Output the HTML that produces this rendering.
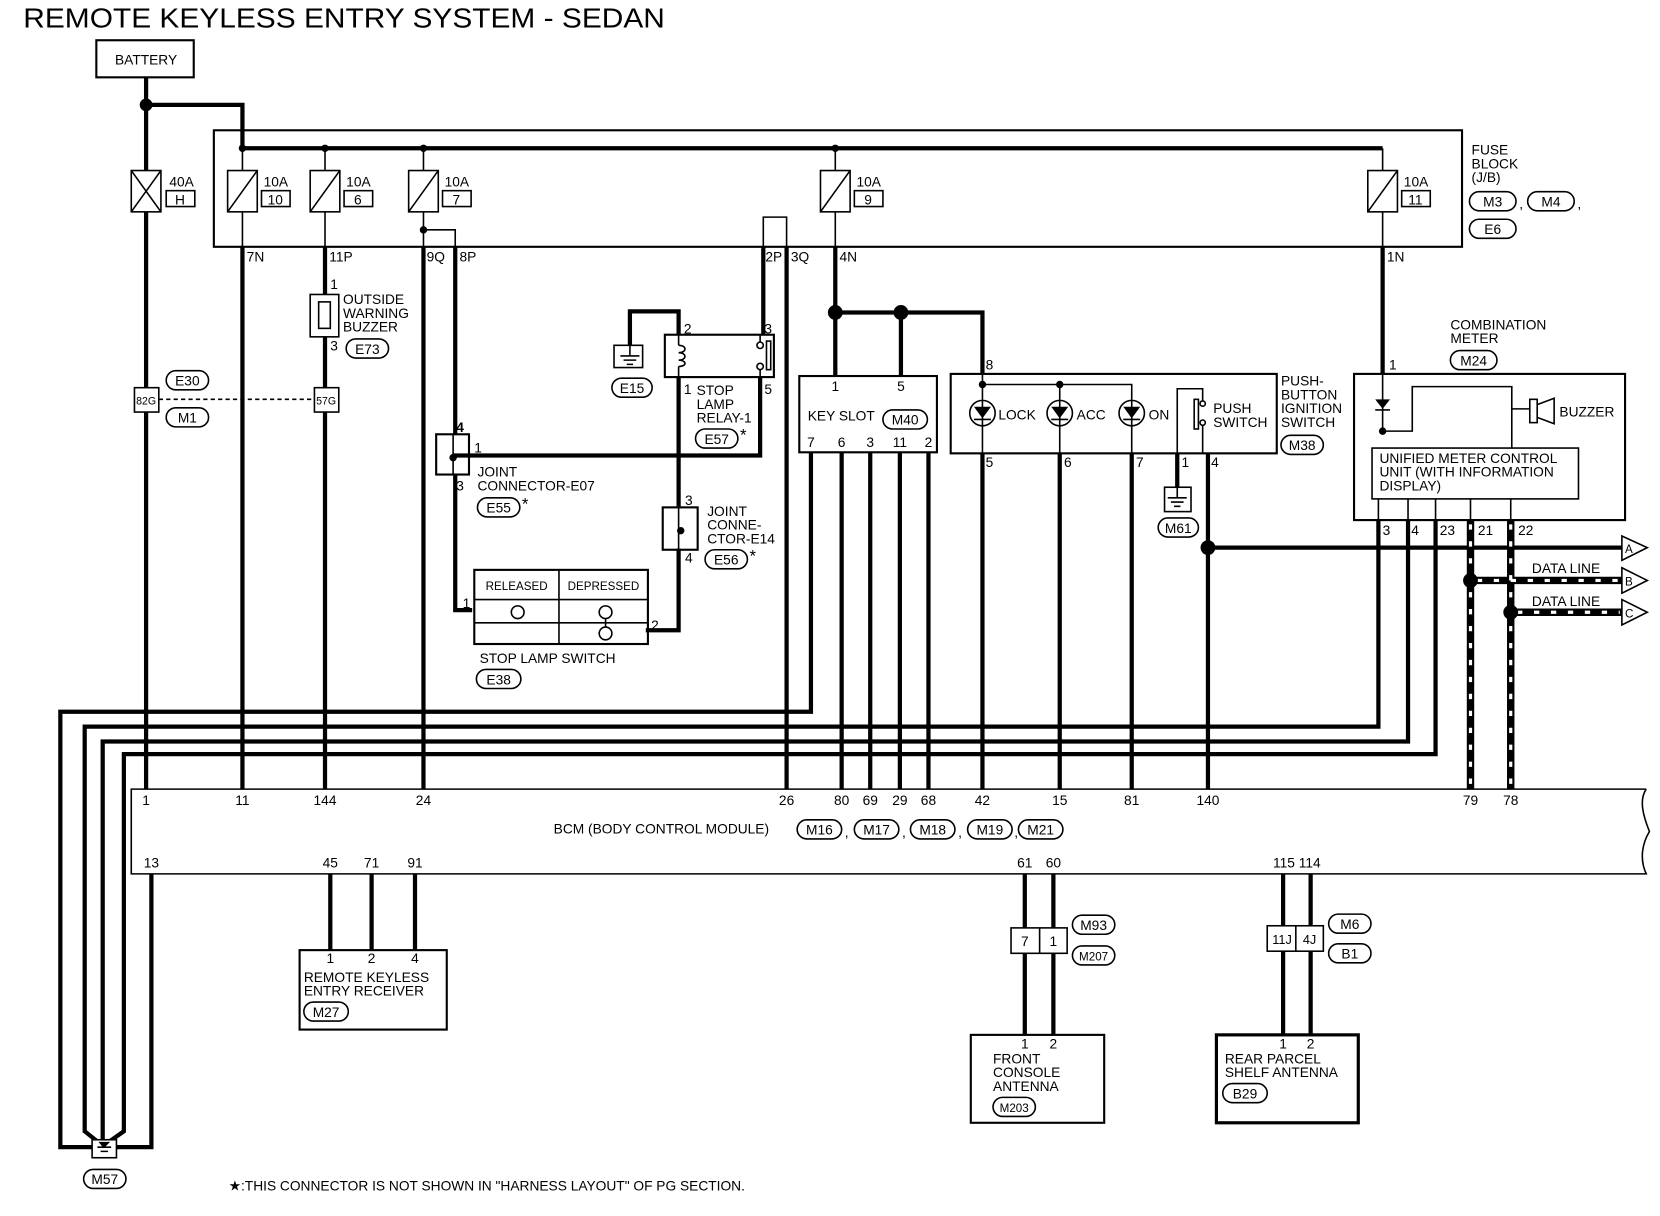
<!DOCTYPE html>
<html><head><meta charset="utf-8"><style>
html,body{margin:0;padding:0;background:#fff;}
svg{display:block}
text{font-family:"Liberation Sans",sans-serif;font-size:13px;fill:#000;}
.t{stroke:#000;stroke-width:4;fill:none}
.n{stroke:#000;stroke-width:1.5;fill:none}
.b{stroke:#000;stroke-width:2;fill:none}
.o{stroke:#000;stroke-width:1.5;fill:#fff}
</style></head><body>
<svg width="1660" height="1216" viewBox="0 0 1568 1148" preserveAspectRatio="none" xmlns="http://www.w3.org/2000/svg">
<text x="22" y="26" style="font-size:26px" textLength="606" lengthAdjust="spacingAndGlyphs">REMOTE KEYLESS ENTRY SYSTEM - SEDAN</text>
<rect x="91" y="38" width="92" height="35" class="b"/>
<text x="138" y="61" text-anchor="middle" style="font-size:13px">BATTERY</text>

<rect x="202" y="123" width="1179" height="110" class="b"/>
<path class="t" d="M138,73V745M138,99H229V140M229,140H1306"/>
<circle cx="138" cy="99" r="6"/>
<g fill="#000"><circle cx="229" cy="140" r="3.5"/><circle cx="307" cy="140" r="3.5"/><circle cx="400" cy="140" r="3.5"/><circle cx="789" cy="140" r="3.5"/><circle cx="400" cy="217" r="3.5"/></g>
<path class="n" d="M229,140V233M307,140V233M400,140V233M789,140V233M1306,140V233M400,217H430V233M721,233V205H743V233"/>
<rect x="124" y="161" width="28" height="39" class="o"/><path class="n" d="M124,161L152,200M152,161L124,200"/>
<text x="160" y="176">40A</text><rect x="157" y="180" width="27" height="15" class="n"/><text x="170" y="193" text-anchor="middle">H</text>
<g>
<rect x="215" y="161" width="28" height="39" class="o"/><path class="n" d="M215,200L243,161"/><text x="249" y="176">10A</text><rect x="247" y="180" width="27" height="15" class="n"/><text x="260" y="193" text-anchor="middle">10</text>
<rect x="293" y="161" width="28" height="39" class="o"/><path class="n" d="M293,200L321,161"/><text x="327" y="176">10A</text><rect x="325" y="180" width="27" height="15" class="n"/><text x="338" y="193" text-anchor="middle">6</text>
<rect x="386" y="161" width="28" height="39" class="o"/><path class="n" d="M386,200L414,161"/><text x="420" y="176">10A</text><rect x="418" y="180" width="27" height="15" class="n"/><text x="431" y="193" text-anchor="middle">7</text>
<rect x="775" y="161" width="28" height="39" class="o"/><path class="n" d="M775,200L803,161"/><text x="809" y="176">10A</text><rect x="807" y="180" width="27" height="15" class="n"/><text x="820" y="193" text-anchor="middle">9</text>
<rect x="1292" y="161" width="28" height="39" class="o"/><path class="n" d="M1292,200L1320,161"/><text x="1326" y="176">10A</text><rect x="1324" y="180" width="27" height="15" class="n"/><text x="1337" y="193" text-anchor="middle">11</text>
</g>
<text x="1390" y="146">FUSE</text><text x="1390" y="159">BLOCK</text><text x="1390" y="172">(J/B)</text>
<rect x="1388" y="181" width="44" height="18" rx="9" class="o"/><text x="1410" y="195" text-anchor="middle">M3</text><text x="1435" y="197">,</text>
<rect x="1443" y="181" width="44" height="18" rx="9" class="o"/><text x="1465" y="195" text-anchor="middle">M4</text><text x="1490" y="197">,</text>
<rect x="1388" y="207" width="44" height="18" rx="9" class="o"/><text x="1410" y="221" text-anchor="middle">E6</text>
<g style="font-size:12px"><text x="233" y="247">7N</text><text x="311" y="247">11P</text><text x="403" y="247">9Q</text><text x="434" y="247">8P</text><text x="723" y="247">2P</text><text x="747" y="247">3Q</text><text x="793" y="247">4N</text><text x="1310" y="247">1N</text></g>

<path class="t" d="M229,233V745M307,233V278M307,318V366M307,389V745M400,233V745M430,233V410M430,448V576H446M721,233V316M743,233V745"/>
<rect x="293" y="278" width="27" height="40" class="o"/><rect x="301" y="285" width="11" height="25" class="n"/>
<text x="312" y="273">1</text><text x="312" y="331">3</text>
<text x="324" y="287">OUTSIDE</text><text x="324" y="300">WARNING</text><text x="324" y="313">BUZZER</text>
<rect x="327" y="320" width="40" height="18" rx="9" class="o"/><text x="347" y="334" text-anchor="middle">E73</text>
<rect x="127" y="366" width="23" height="23" class="o"/><text x="138" y="382" text-anchor="middle" style="font-size:10px">82G</text>
<rect x="297" y="366" width="23" height="23" class="o"/><text x="308" y="382" text-anchor="middle" style="font-size:10px">57G</text>
<path d="M150,377H297" stroke="#000" stroke-width="1.5" stroke-dasharray="4 3"/>
<rect x="157" y="350" width="40" height="18" rx="9" class="o"/><text x="177" y="364" text-anchor="middle">E30</text>
<rect x="157" y="385" width="40" height="18" rx="9" class="o"/><text x="177" y="399" text-anchor="middle">M1</text>

<path class="t" d="M641,316V294H595V326M641,356V478M641,518V595H610M718,356V430H428"/>
<rect x="628" y="316" width="103" height="40" class="b"/>
<path class="n" d="M641,316V326M641,346V356M718,316V323M718,349V356"/>
<path class="n" d="M641,326c8,0 8,7 0,7c8,0 8,7 0,7c8,0 8,6 0,6"/>
<circle cx="718" cy="326" r="3" class="o"/><circle cx="718" cy="346" r="3" class="o"/><rect x="724" y="322" width="4" height="27" class="n"/>
<rect x="580" y="326" width="27" height="21" class="o"/><path class="n" d="M595,326V336M586,336H604M589,340H601M592,344H598"/>
<rect x="578" y="357" width="38" height="18" rx="9" class="o"/><text x="597" y="371" text-anchor="middle">E15</text>
<text x="646" y="315">2</text><text x="722" y="315">3</text><text x="646" y="372">1</text><text x="722" y="372">5</text>
<text x="658" y="373">STOP</text><text x="658" y="386">LAMP</text><text x="658" y="399">RELAY-1</text>
<rect x="657" y="405" width="40" height="18" rx="9" class="o"/><text x="677" y="419" text-anchor="middle">E57</text><text x="699" y="416" style="font-size:16px">*</text>
<rect x="412" y="410" width="31" height="38" class="b"/><path class="n" d="M428,410V448M428,430H443"/><circle cx="428" cy="432" r="3.5"/>
<text x="431" y="408" style="font-weight:bold">4</text><text x="448" y="427">1</text><text x="431" y="463">3</text>
<text x="451" y="450">JOINT</text><text x="451" y="463">CONNECTOR-E07</text>
<rect x="451" y="470" width="40" height="18" rx="9" class="o"/><text x="471" y="484" text-anchor="middle">E55</text><text x="493" y="481" style="font-size:16px">*</text>
<rect x="626" y="479" width="33" height="40" class="b"/><path class="n" d="M641,479V519"/><circle cx="643" cy="501" r="3.5"/>
<text x="647" y="477">3</text><text x="647" y="531">4</text>
<text x="668" y="487">JOINT</text><text x="668" y="500">CONNE-</text><text x="668" y="513">CTOR-E14</text>
<rect x="666" y="519" width="40" height="18" rx="9" class="o"/><text x="686" y="533" text-anchor="middle">E56</text><text x="708" y="530" style="font-size:16px">*</text>
<rect x="448" y="538" width="164" height="70" class="b"/><path class="n" d="M448,566H612M448,588H612M528,538V608"/>
<text x="488" y="557" text-anchor="middle" style="font-size:11px">RELEASED</text><text x="570" y="557" text-anchor="middle" style="font-size:11px">DEPRESSED</text>
<circle cx="489" cy="578" r="6" class="n"/><circle cx="572" cy="578" r="6" class="n"/><circle cx="572" cy="598" r="6" class="n"/><path class="n" d="M572,584V592"/>
<text x="437" y="574">1</text><text x="615" y="595">2</text>
<text x="453" y="626">STOP LAMP SWITCH</text>
<rect x="450" y="632" width="42" height="18" rx="9" class="o"/><text x="471" y="646" text-anchor="middle">E38</text>

<path class="t" d="M789,233V355M789,295H928V353M851,295V355"/>
<circle cx="789" cy="295" r="7"/><circle cx="851" cy="295" r="7"/>
<rect x="755" y="355" width="130" height="72" class="b"/>
<text x="789" y="369" text-anchor="middle">1</text><text x="851" y="369" text-anchor="middle">5</text>
<text x="763" y="397">KEY SLOT</text><rect x="834" y="387" width="42" height="18" rx="9" class="o"/><text x="855" y="401" text-anchor="middle">M40</text>
<g text-anchor="middle"><text x="766" y="422">7</text><text x="795" y="422">6</text><text x="822" y="422">3</text><text x="850" y="422">11</text><text x="877" y="422">2</text></g>
<path class="t" d="M766,427V672H57V1083H87M795,427V745M822,427V745M850,427V745M877,427V745"/>

<text x="931" y="349">8</text>
<rect x="898" y="353" width="308" height="75" class="b"/>
<path class="n" d="M928,353V428M928,363H1069V428M1001,363V428"/>
<circle cx="928" cy="363" r="3.5"/><circle cx="1001" cy="363" r="3.5"/>
<g>
<circle cx="928" cy="390" r="12" class="o"/><path d="M920,384H936L928,395Z"/><path class="n" d="M920,396H936M928,378V402"/>
<circle cx="1001" cy="390" r="12" class="o"/><path d="M993,384H1009L1001,395Z"/><path class="n" d="M993,396H1009M1001,378V402"/>
<circle cx="1069" cy="390" r="12" class="o"/><path d="M1061,384H1077L1069,395Z"/><path class="n" d="M1061,396H1077M1069,378V402"/>
</g>
<text x="943" y="396">LOCK</text><text x="1017" y="396">ACC</text><text x="1085" y="396">ON</text>
<path class="n" d="M1112,428V367H1136V378M1136,402V428"/>
<circle cx="1136" cy="381" r="2.5" class="o"/><circle cx="1136" cy="399" r="2.5" class="o"/><rect x="1128" y="377" width="4" height="28" class="n"/>
<text x="1146" y="390">PUSH</text><text x="1146" y="403">SWITCH</text>
<text x="1210" y="364">PUSH-</text><text x="1210" y="377">BUTTON</text><text x="1210" y="390">IGNITION</text><text x="1210" y="403">SWITCH</text>
<rect x="1210" y="411" width="40" height="18" rx="9" class="o"/><text x="1230" y="425" text-anchor="middle">M38</text>
<g><text x="931" y="441">5</text><text x="1005" y="441">6</text><text x="1073" y="441">7</text><text x="1116" y="441">1</text><text x="1144" y="441">4</text></g>
<path class="t" d="M928,428V745M1001,428V745M1069,428V745M1112,428V460M1141,428V745M1141,517H1532"/>
<circle cx="1141" cy="517" r="7"/>
<rect x="1100" y="460" width="25" height="23" class="o"/><path class="n" d="M1112,460V470M1103,470H1121M1106,474H1118M1109,478H1115"/>
<rect x="1094" y="489" width="38" height="18" rx="9" class="o"/><text x="1113" y="503" text-anchor="middle">M61</text>

<path class="t" d="M1306,233V353"/>
<text x="1370" y="311">COMBINATION</text><text x="1370" y="324">METER</text>
<rect x="1370" y="331" width="44" height="18" rx="9" class="o"/><text x="1392" y="345" text-anchor="middle">M24</text>
<text x="1312" y="349">1</text>
<rect x="1279" y="353" width="256" height="138" class="b"/>
<path class="n" d="M1306,353V407M1306,407H1334V365H1428V386H1445M1428,386V423"/>
<path d="M1299,377H1313L1306,386Z"/><path class="n" d="M1299,387H1313"/><circle cx="1306" cy="407" r="3.5"/>
<rect x="1445" y="377" width="7" height="22" class="o"/><path class="n" d="M1452,382L1468,376V400L1452,394"/>
<text x="1473" y="393">BUZZER</text>
<rect x="1296" y="423" width="195" height="48" class="n"/>
<text x="1303" y="437">UNIFIED METER CONTROL</text><text x="1303" y="450">UNIT (WITH INFORMATION</text><text x="1303" y="463">DISPLAY)</text>
<path class="n" d="M1302,471V491M1330,471V491M1356,471V491M1389,471V491M1427,471V491"/>
<g><text x="1306" y="505">3</text><text x="1333" y="505">4</text><text x="1360" y="505">23</text><text x="1396" y="505">21</text><text x="1434" y="505">22</text></g>
<path class="t" d="M1302,491V686H80V1068L95,1080M1330,491V700H97V1080M1356,491V712H117V1068L100,1080M143,825V1083H110"/>
<g>
<path d="M1389,491V745M1427,491V745M1389,548H1532M1427,578H1532" stroke="#000" stroke-width="7" fill="none"/>
<path d="M1389,495V745M1427,495V745M1395,548H1530M1433,578H1530" stroke="#fff" stroke-width="3" fill="none" stroke-dasharray="5 11"/>
</g>
<circle cx="1389" cy="548" r="7"/><circle cx="1427" cy="578" r="7"/>
<text x="1447" y="541">DATA LINE</text><text x="1447" y="572">DATA LINE</text>
<path class="o" d="M1532,506L1556,517L1532,529Z"/><text x="1535" y="522" style="font-size:11px">A</text>
<path class="o" d="M1532,536L1556,548L1532,560Z"/><text x="1535" y="553" style="font-size:11px">B</text>
<path class="o" d="M1532,566L1556,578L1532,590Z"/><text x="1535" y="583" style="font-size:11px">C</text>

<path class="n" d="M1555,745H124V825H1555C1548,810 1552,795 1558,785C1552,770 1548,755 1555,745" fill="#fff"/>
<g text-anchor="middle"><text x="138" y="760">1</text><text x="229" y="760">11</text><text x="307" y="760">144</text><text x="400" y="760">24</text><text x="743" y="760">26</text><text x="795" y="760">80</text><text x="822" y="760">69</text><text x="850" y="760">29</text><text x="877" y="760">68</text><text x="928" y="760">42</text><text x="1001" y="760">15</text><text x="1069" y="760">81</text><text x="1141" y="760">140</text><text x="1389" y="760">79</text><text x="1427" y="760">78</text>
<text x="143" y="819">13</text><text x="312" y="819">45</text><text x="351" y="819">71</text><text x="392" y="819">91</text><text x="968" y="819">61</text><text x="995" y="819">60</text><text x="1225" y="819">115 114</text></g>
<text x="523" y="787">BCM (BODY CONTROL MODULE)</text>
<rect x="753" y="774" width="42" height="18" rx="9" class="o"/><text x="774" y="788" text-anchor="middle">M16</text><text x="798" y="790">,</text>
<rect x="807" y="774" width="42" height="18" rx="9" class="o"/><text x="828" y="788" text-anchor="middle">M17</text><text x="852" y="790">,</text>
<rect x="860" y="774" width="42" height="18" rx="9" class="o"/><text x="881" y="788" text-anchor="middle">M18</text><text x="905" y="790">,</text>
<rect x="914" y="774" width="42" height="18" rx="9" class="o"/><text x="935" y="788" text-anchor="middle">M19</text><text x="958" y="790">,</text>
<rect x="962" y="774" width="42" height="18" rx="9" class="o"/><text x="983" y="788" text-anchor="middle">M21</text>

<path class="t" d="M312,825V897M351,825V897M392,825V897"/>
<rect x="283" y="897" width="139" height="75" class="b"/>
<g text-anchor="middle"><text x="312" y="909">1</text><text x="351" y="909">2</text><text x="392" y="909">4</text></g>
<text x="287" y="927">REMOTE KEYLESS</text><text x="287" y="940">ENTRY RECEIVER</text>
<rect x="287" y="946" width="42" height="18" rx="9" class="o"/><text x="308" y="960" text-anchor="middle">M27</text>

<path class="t" d="M968,825V977M995,825V977"/>
<rect x="955" y="876" width="53" height="24" class="o"/><path class="n" d="M982,876V900"/>
<text x="968" y="893" text-anchor="middle">7</text><text x="995" y="893" text-anchor="middle">1</text>
<rect x="1013" y="864" width="40" height="18" rx="9" class="o"/><text x="1033" y="878" text-anchor="middle">M93</text>
<rect x="1013" y="893" width="40" height="18" rx="9" class="o"/><text x="1033" y="907" text-anchor="middle" style="font-size:11px">M207</text>
<rect x="917" y="977" width="126" height="83" class="b"/>
<text x="968" y="990" text-anchor="middle">1</text><text x="995" y="990" text-anchor="middle">2</text>
<text x="938" y="1004">FRONT</text><text x="938" y="1017">CONSOLE</text><text x="938" y="1030">ANTENNA</text>
<rect x="938" y="1036" width="40" height="18" rx="9" class="o"/><text x="958" y="1050" text-anchor="middle" style="font-size:11px">M203</text>

<path class="t" d="M1212,825V977M1238,825V977"/>
<rect x="1197" y="874" width="53" height="24" class="o"/><path class="n" d="M1224,874V898"/>
<text x="1211" y="891" text-anchor="middle" style="font-size:12px">11J</text><text x="1237" y="891" text-anchor="middle" style="font-size:12px">4J</text>
<rect x="1255" y="863" width="40" height="18" rx="9" class="o"/><text x="1275" y="877" text-anchor="middle">M6</text>
<rect x="1255" y="891" width="40" height="18" rx="9" class="o"/><text x="1275" y="905" text-anchor="middle">B1</text>
<rect x="1149" y="977" width="134" height="83" class="o" style="stroke-width:3"/>
<text x="1212" y="990" text-anchor="middle">1</text><text x="1238" y="990" text-anchor="middle">2</text>
<text x="1157" y="1004">REAR PARCEL</text><text x="1157" y="1017">SHELF ANTENNA</text>
<rect x="1155" y="1023" width="42" height="18" rx="9" class="o"/><text x="1176" y="1037" text-anchor="middle">B29</text>

<rect x="87" y="1076" width="23" height="17" class="o"/><path class="n" d="M92,1083H105M95,1087H102"/><path d="M93,1078H104L98,1084Z"/>
<rect x="79" y="1104" width="40" height="18" rx="9" class="o"/><text x="99" y="1118" text-anchor="middle">M57</text>
<text x="216" y="1124">★:THIS CONNECTOR IS NOT SHOWN IN "HARNESS LAYOUT" OF PG SECTION.</text>
</svg>
</body></html>
